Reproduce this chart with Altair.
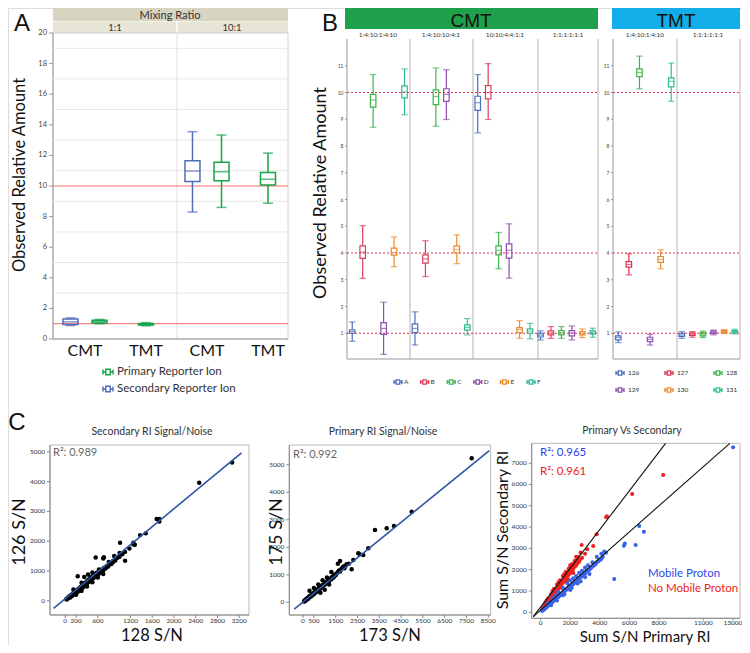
import altair as alt
import pandas as pd

FONT = "Lato"
LETTER_FONT = "Liberation Sans"
M = 8            # page margin
W, H = 734, 637  # chart canvas


def px(v):
    return v - M

# ---------------- Panel A data ----------------
A_ratios = ["1:1", "10:1"]
A_platforms = ["CMT", "TMT"]
A_reporters = ["Primary Reporter Ion", "Secondary Reporter Ion"]
A_colors = ["#17a34a", "#4e6eb8"]
A_ratio = ["1:1", "1:1", "1:1", "10:1", "10:1", "10:1"]
A_platform = ["CMT", "CMT", "TMT", "CMT", "CMT", "TMT"]
A_reporter = ["Secondary Reporter Ion", "Primary Reporter Ion", "Primary Reporter Ion",
              "Secondary Reporter Ion", "Primary Reporter Ion", "Primary Reporter Ion"]
A_lo = [0.88, 1.00, 0.86, 8.30, 8.60, 8.87]
A_q1 = [0.95, 1.05, 0.92, 10.30, 10.35, 10.07]
A_med = [1.12, 1.13, 0.97, 10.98, 10.93, 10.44]
A_q3 = [1.30, 1.22, 1.02, 11.65, 11.55, 10.89]
A_hi = [1.38, 1.28, 1.07, 13.55, 13.33, 12.15]
A_ticks = [0, 2, 4, 6, 8, 10, 12, 14, 16, 18, 20]
A_grid = [1, 3, 5, 7, 9, 11, 13, 15, 17, 19]
A_ref = [1, 10]

# ---------------- Panel B data ----------------
CMT_facets = ["1:4:10:1:4:10", "1:4:10:10:4:1", "10:10:4:4:1:1", "1:1:1:1:1:1"]
CMT_channels = ["A", "B", "C", "D", "E", "F"]
CMT_lo = [[0.70, 3.05, 8.70, 0.21, 3.49, 9.17], [0.56, 3.12, 8.74, 8.99, 3.60, 0.94],
          [8.49, 8.99, 3.41, 3.06, 0.81, 0.79], [0.75, 0.81, 0.81, 0.75, 0.84, 0.85]]
CMT_q1 = [[1.00, 3.80, 9.45, 0.96, 3.92, 9.80], [1.02, 3.62, 9.55, 9.67, 4.00, 1.12],
          [9.33, 9.76, 3.93, 3.81, 1.02, 1.00], [0.86, 0.94, 0.94, 0.90, 0.94, 0.97]]
CMT_med = [[1.07, 4.03, 9.72, 1.18, 4.02, 10.02], [1.18, 3.78, 9.85, 9.93, 4.13, 1.22],
           [9.62, 10.00, 4.10, 4.10, 1.14, 1.08], [0.93, 1.01, 1.02, 1.01, 0.99, 1.03]]
CMT_q3 = [[1.13, 4.27, 9.93, 1.40, 4.18, 10.25], [1.35, 3.93, 10.10, 10.14, 4.27, 1.31],
          [9.86, 10.26, 4.27, 4.34, 1.21, 1.16], [1.00, 1.09, 1.10, 1.10, 1.06, 1.09]]
CMT_hi = [[1.42, 5.02, 10.67, 2.16, 4.60, 10.88], [1.80, 4.46, 10.92, 10.85, 4.68, 1.55],
          [10.67, 11.08, 4.77, 5.09, 1.47, 1.37], [1.09, 1.25, 1.25, 1.27, 1.16, 1.19]]
CMT_colors = ["#4a6fbd", "#d83f5c", "#3db54a", "#8d4db3", "#e98a2c", "#2fba91"]

TMT_facets = ["1:4:10:1:4:10", "1:1:1:1:1:1"]
TMT_channels = ["126", "127", "128", "129", "130", "131"]
TMT_lo = [[0.65, 3.18, 10.14, 0.56, 3.41, 9.67], [0.81, 0.85, 0.84, 0.94, 0.99, 0.97]]
TMT_q1 = [[0.75, 3.47, 10.59, 0.69, 3.65, 10.21], [0.88, 0.92, 0.90, 0.99, 1.03, 1.02]]
TMT_med = [[0.84, 3.57, 10.75, 0.77, 3.76, 10.42], [0.94, 0.97, 0.96, 1.03, 1.06, 1.06]]
TMT_q3 = [[0.90, 3.68, 10.88, 0.85, 3.87, 10.55], [1.00, 1.01, 1.02, 1.08, 1.10, 1.10]]
TMT_hi = [[1.05, 3.97, 11.36, 0.96, 4.12, 11.10], [1.06, 1.06, 1.08, 1.12, 1.14, 1.15]]
TMT_colors = ["#4a6fbd", "#e0304f", "#3db54a", "#8d4db3", "#e98a2c", "#2fba91"]
B_ticks = [1, 2, 3, 4, 5, 6, 7, 8, 9, 10, 11]
B_ref = [1, 4, 10]

# ---------------- Panel C data ----------------
c1_x = [20, 40, 50, 60, 80, 90, 100, 110, 120, 130, 140, 150, 160, 170, 180, 190, 200, 210, 220, 230,
        240, 250, 260, 270, 280, 290, 300, 310, 320, 330, 340, 350, 360, 370, 380, 390, 400, 410, 420, 430,
        440, 450, 460, 470, 480, 500, 510, 530, 540, 560, 580, 600, 620, 640, 660, 690, 710, 740, 760, 790,
        820, 850, 880, 920, 960, 1000, 1050, 1100,
        150, 230, 300, 350, 420, 500, 560, 620, 700, 710, 800, 900, 1000, 1009, 1101, 1180, 1250, 1254,
        1280, 1376, 1480, 1682, 1731, 1731, 2464, 3070, 200, 300, 400, 500, 600, 700,
        30, 70, 100, 130, 160, 190, 220, 250, 280, 310, 340, 370, 400, 430, 460, 490, 520, 550, 580, 610,
        640, 670, 700, 730, 760, 800, 840, 880]
c1_y = [60, 70, 110, 90, 150, 110, 180, 150, 200, 170, 240, 200, 260, 230, 300, 250, 330, 280, 360, 300,
        390, 340, 420, 360, 450, 400, 480, 420, 520, 460, 560, 500, 590, 520, 620, 560, 650, 600, 690, 630,
        720, 660, 760, 690, 790, 740, 830, 780, 880, 840, 940, 880, 980, 930, 1040, 1000, 1100, 1080, 1160, 1150,
        1240, 1230, 1330, 1350, 1440, 1480, 1560, 1640,
        380, 820, 600, 800, 880, 950, 1450, 1050, 1420, 1456, 1300, 1500, 1600, 1946, 1342, 1750, 1900, 1946,
        1880, 2203, 2262, 2742, 2742, 2660, 3960, 4644, 200, 330, 480, 620, 780, 900,
        40, 120, 140, 210, 230, 300, 320, 390, 410, 480, 500, 560, 590, 640, 680, 730, 770, 830, 860, 900,
        960, 990, 1030, 1090, 1120, 1200, 1260, 1300]
c1_fit_x = [-215, 3242]
c1_fit_y = [-255, 4966]

c2_x = [50, 80, 100, 130, 150, 180, 200, 230, 250, 280, 300, 330, 350, 380, 400, 430, 450, 480, 500, 530,
        550, 580, 600, 630, 650, 680, 700, 730, 750, 780, 800, 830, 850, 880, 900, 950, 1000, 1050, 1100, 1150,
        1200, 1250, 1300, 1350, 1400, 1450, 1500, 1600, 1700, 1800, 1900, 2000, 2100,
        300, 500, 700, 900, 1000, 1200, 800, 1100, 1300, 1600, 1700, 2234, 2307, 2537, 2766, 2996, 2600,
        3303, 3839, 4174, 4986, 7739,
        70, 120, 170, 220, 270, 320, 370, 420, 470, 520, 570, 620, 670, 720, 770, 820, 870, 920, 980, 1030,
        1080, 1130, 1180, 1230, 1280, 1330, 1380, 1430, 1480, 1550, 1650, 1750, 1850, 1950]
c2_y = [30, 70, 50, 100, 80, 130, 110, 170, 140, 200, 180, 230, 210, 270, 240, 300, 270, 330, 300, 370,
        340, 400, 370, 440, 400, 470, 440, 520, 470, 550, 500, 580, 540, 620, 570, 650, 640, 720, 700, 790,
        770, 860, 840, 930, 900, 1000, 980, 1100, 1120, 1250, 1240, 1380, 1400,
        420, 520, 650, 800, 460, 650, 350, 900, 1100, 1400, 1500, 1200, 1538, 1782, 1720, 1963, 1750,
        2629, 2690, 2775, 3295, 5236,
        50, 90, 120, 150, 190, 220, 250, 290, 320, 350, 390, 420, 460, 480, 520, 560, 590, 620, 660, 690,
        740, 760, 800, 830, 870, 900, 940, 960, 1010, 1050, 1160, 1200, 1300, 1330]
c2_fit_x = [-400, 8546]
c2_fit_y = [-244, 5513]

c3_nomob_x = [100, 200, 300, 400, 500, 600, 700, 800, 900, 1000, 1100, 1200, 1300, 1400, 1500, 1600, 1700,
              1800, 1900, 2000, 2100, 2200, 2300, 2400, 2500, 2600, 2700, 2800, 3000,
              300, 500, 700, 900, 1100, 1300, 1500, 1700, 1900, 2100, 2300, 2500, 2700,
              600, 1000, 1400, 1800, 2200,
              2770, 3149, 3554, 3784, 4433, 4480, 6189, 8284,
              150, 250, 350, 450, 550, 650, 750, 850, 950, 1050, 1150, 1250, 1350, 1450, 1550, 1650, 1750,
              1850, 1950, 2050, 2150, 2250, 2350, 2450, 400, 800, 1200, 1600, 2000, 2400,
              200, 600, 1000, 1400, 1800]
c3_nomob_y = [120, 200, 300, 380, 480, 560, 660, 740, 840, 920, 1020, 1100, 1210, 1280, 1390, 1460, 1570,
              1650, 1760, 1840, 1950, 2030, 2140, 2200, 2310, 2380, 2500, 2560, 2750,
              420, 650, 850, 1100, 1300, 1500, 1700, 1900, 2050, 2250, 2400, 2600, 2800,
              450, 800, 1150, 1500, 1850,
              3160, 2958, 3113, 3662, 4460, 4507, 5554, 6446,
              200, 280, 380, 470, 560, 650, 760, 850, 950, 1050, 1140, 1250, 1340, 1450, 1540, 1650, 1740,
              1850, 1950, 2050, 2130, 2250, 2330, 2450, 550, 1000, 1400, 1800, 2200, 2600,
              150, 500, 850, 1200, 1550]
c3_mob_x = [100, 200, 300, 400, 500, 600, 700, 800, 900, 1000, 1100, 1200, 1300, 1400, 1500, 1600, 1700,
            1800, 1900, 2000, 2100, 2200, 2300, 2400, 2500, 2600, 2700, 2800, 2900, 3000, 3100, 3200,
            3400, 3600, 3800, 4000, 4200,
            500, 800, 1000, 1200, 1500, 1800, 2000, 2200, 2400, 2600, 2800, 3000, 3200, 3500, 3800, 4100, 4300,
            1500, 2000, 2500, 3000,
            4412, 4973, 5628, 5696, 6419, 6662, 6980, 13013,
            150, 250, 350, 450, 550, 650, 750, 850, 950, 1050, 1150, 1250, 1350, 1450, 1550, 1650, 1750,
            1850, 1950, 2050, 2150, 2250, 2350, 2450, 2550, 2650, 2750, 2850, 2950, 3050,
            3300, 3500, 3700, 3900, 4100, 700, 1100, 1600, 2100, 2700, 3300]
c3_mob_y = [60, 110, 190, 230, 310, 350, 440, 480, 560, 590, 690, 720, 810, 850, 940, 970, 1060,
            1090, 1180, 1200, 1300, 1320, 1420, 1450, 1550, 1580, 1680, 1700, 1800, 1820, 1940, 1960,
            2080, 2200, 2350, 2450, 2600,
            450, 650, 800, 950, 1150, 1350, 1500, 1600, 1700, 1850, 1950, 2100, 2200, 2350, 2600, 2750, 2850,
            800, 1050, 1350, 1650,
            2798, 1563, 3127, 3230, 3160, 4050, 3784, 7746,
            120, 170, 230, 290, 350, 410, 470, 530, 590, 650, 710, 770, 830, 890, 950, 1010, 1070,
            1130, 1190, 1250, 1320, 1380, 1440, 1500, 1560, 1620, 1680, 1740, 1800, 1870,
            2000, 2150, 2250, 2400, 2500, 330, 550, 850, 1150, 1450, 1800]
c3_fit_nomob_x = [-500, 8446]
c3_fit_nomob_y = [-207, 7934]
c3_fit_mob_x = [-500, 12790]
c3_fit_mob_y = [-207, 7934]

C1_xticks = [0, 200, 600, 1200, 1600, 2000, 2400, 2800, 3200]
C1_yticks = [0, 1000, 2000, 3000, 4000, 5000]
C2_xticks = [0, 500, 1500, 2500, 3500, 4500, 5500, 6500, 7500, 8500]
C2_yticks = [0, 1000, 2000, 3000, 4000, 5000]
C3_xticks = [0, 2000, 4000, 6000, 8000, 11000, 13000]
C3_yticks = [0, 1000, 2000, 3000, 4000, 5000, 6000, 7000]

BOXPATH = "M-1,0H-0.45M0.45,0H1M-1,-0.5V0.5M1,-0.5V0.5M-0.45,-0.55H0.45V0.55H-0.45Z"


# ---------------- helpers ----------------
def txt(s, x, y, size, color="#222", align="center", baseline="middle", angle=0, weight="normal", font=FONT):
    return alt.Chart().mark_text(text=s, font=font, fontSize=size, color=color, align=align,
                                 baseline=baseline, angle=angle, fontWeight=weight).encode(
        x=alt.value(px(x)), y=alt.value(px(y)))


def rect(x0, x1, y0, y1, fill):
    return alt.Chart().mark_rect(color=fill).encode(
        x=alt.value(px(x0)), x2=alt.value(px(x1)), y=alt.value(px(y0)), y2=alt.value(px(y1)))


def frame(x0, x1, y0, y1, color, sw=1):
    return alt.Chart().mark_rect(filled=False, color=color, strokeWidth=sw).encode(
        x=alt.value(px(x0)), x2=alt.value(px(x1)), y=alt.value(px(y0)), y2=alt.value(px(y1)))


def vrule(x, y0, y1, color, sw=1):
    return alt.Chart().mark_rule(color=color, strokeWidth=sw).encode(
        x=alt.value(px(x)), y=alt.value(px(y0)), y2=alt.value(px(y1)))


def hrule(y, x0, x1, color, sw=1):
    return alt.Chart().mark_rule(color=color, strokeWidth=sw).encode(
        y=alt.value(px(y)), x=alt.value(px(x0)), x2=alt.value(px(x1)))


def y_guide(values, yscale, xaxis, size, tick=3, pad=2, color="#444", tcolor="#999"):
    df = pd.DataFrame({"v": values})
    ticks = alt.Chart(df).mark_rule(color=tcolor, strokeWidth=1).encode(
        y=alt.Y("v:Q", scale=yscale, axis=None), x=alt.value(px(xaxis) - tick), x2=alt.value(px(xaxis)))
    labels = alt.Chart(df).mark_text(align="right", baseline="middle", fontSize=size, color=color,
                                     font=FONT).encode(
        y=alt.Y("v:Q", scale=yscale, axis=None), x=alt.value(px(xaxis) - tick - pad),
        text=alt.Text("v:Q", format="d"))
    return alt.layer(ticks, labels)


def x_guide(values, xscale, yaxis, size, tick=3, pad=0, color="#333", tcolor="#888"):
    df = pd.DataFrame({"v": values})
    ticks = alt.Chart(df).mark_rule(color=tcolor, strokeWidth=1).encode(
        x=alt.X("v:Q", scale=xscale, axis=None), y=alt.value(px(yaxis)), y2=alt.value(px(yaxis) + tick))
    labels = alt.Chart(df).mark_text(align="center", baseline="top", fontSize=size, color=color,
                                     font=FONT).encode(
        x=alt.X("v:Q", scale=xscale, axis=None), y=alt.value(px(yaxis) + tick + pad),
        text=alt.Text("v:Q", format="d"))
    return alt.layer(ticks, labels)


def box_layers(df, xenc, yscale, cenc, box_w, cap_w, sw, xoff=None):
    def enc(**kw):
        e = {"x": xenc(), "color": cenc()}
        if xoff is not None:
            e["xOffset"] = xoff
        e.update(kw)
        return e

    def Y(f):
        return alt.Y(f + ":Q", scale=yscale, axis=None)

    base = alt.Chart(df)
    lower = base.mark_rule(strokeWidth=sw).encode(**enc(y=Y("lo"), y2=alt.Y2("q1:Q")))
    upper = base.mark_rule(strokeWidth=sw).encode(**enc(y=Y("q3"), y2=alt.Y2("hi:Q")))
    cap_lo = base.mark_tick(size=cap_w, thickness=sw).encode(**enc(y=Y("lo")))
    cap_hi = base.mark_tick(size=cap_w, thickness=sw).encode(**enc(y=Y("hi")))
    box = base.mark_bar(filled=False, strokeWidth=sw, width=box_w).encode(
        **enc(y=Y("q1"), y2=alt.Y2("q3:Q")))
    med = base.mark_tick(size=box_w, thickness=sw).encode(**enc(y=Y("med")))
    return alt.layer(lower, upper, cap_lo, cap_hi, box, med)


def legend_marks(df, xfield, xdomain, xrange, yfield, ydomain, yrange, cfield, cdomain, colors,
                 size, lab_dx, sw=1.3, sym=64):
    xs = alt.Scale(type="point", domain=xdomain, range=xrange, padding=0)
    ys = alt.Scale(type="point", domain=ydomain, range=yrange, padding=0)
    cs = alt.Scale(domain=cdomain, range=colors)
    s = alt.Chart(df).mark_point(shape=BOXPATH, filled=False, size=sym, strokeWidth=sw, opacity=1).encode(
        x=alt.X(xfield, scale=xs, axis=None), y=alt.Y(yfield, scale=ys, axis=None),
        color=alt.Color(cfield, scale=cs, legend=None))
    lab = alt.Chart(df).mark_text(align="left", baseline="middle", dx=lab_dx, fontSize=size, color="#333",
                                  font=FONT).encode(
        x=alt.X(xfield, scale=xs, axis=None), y=alt.Y(yfield, scale=ys, axis=None), text=cfield)
    return alt.layer(s, lab)


# ---------------- Panel A ----------------
dfA = pd.DataFrame({
    "slot": [f"{r}|{p}" for r, p in zip(A_ratio, A_platform)],
    "platform": A_platform, "reporter": A_reporter,
    "lo": A_lo, "q1": A_q1, "med": A_med, "q3": A_q3, "hi": A_hi})
yA = alt.Scale(domain=[0, 20], range=[px(339), px(33)], nice=False, zero=False)
A_slots = [f"{r}|{p}" for r in A_ratios for p in A_platforms]
xA_scale = alt.Scale(domain=A_slots, range=[px(54.5), px(298.5)], paddingInner=0, paddingOuter=0)


def xA():
    return alt.X("slot:N", scale=xA_scale, axis=None)


def cA():
    return alt.Color("reporter:N", scale=alt.Scale(domain=A_reporters, range=A_colors), legend=None)


gridA = alt.Chart(pd.DataFrame({"g": A_grid})).mark_rule(color="#e6e6e6", strokeWidth=1).encode(
    y=alt.Y("g:Q", scale=yA, axis=None), x=alt.value(px(53)), x2=alt.value(px(288)))
refA = alt.Chart(pd.DataFrame({"v": A_ref})).mark_rule(color="#ff6b6b", strokeWidth=1).encode(
    y=alt.Y("v:Q", scale=yA, axis=None), x=alt.value(px(53)), x2=alt.value(px(288)))
xoffA = alt.XOffset("reporter:N", scale=alt.Scale(domain=["Secondary Reporter Ion", "Primary Reporter Ion"],
                                                  paddingInner=0, paddingOuter=0.05))
cmtA = box_layers(dfA[dfA.platform == "CMT"], xA, yA, cA, 15, 10, 1.5, xoff=xoffA)
tmtA = box_layers(dfA[dfA.platform == "TMT"], xA, yA, cA, 15, 10, 1.5)
panelA = alt.layer(gridA, refA, cmtA, tmtA)
xlabA = alt.Chart(pd.DataFrame({"slot": A_slots, "platform": [p for r in A_ratios for p in A_platforms]})
                  ).mark_text(fontSize=16, color="#111", font=FONT, baseline="middle").encode(
    x=alt.X("slot:N", scale=xA_scale, axis=None), y=alt.value(px(351)), text="platform:N")
ylabA = y_guide(A_ticks, yA, 53, 7.5, tick=4, pad=2)
legA = legend_marks(pd.DataFrame({"reporter": A_reporters, "col": ["a", "a"]}),
                    "col:N", ["a"], [px(108), px(108)], "reporter:N", A_reporters, [px(372), px(389)],
                    "reporter:N", A_reporters, A_colors, 11.5, 9, sw=1.4, sym=100)


# ---------------- Panel B ----------------
def make_df(facets, channels, lo, q1, med, q3, hi):
    rows = []
    for i, f in enumerate(facets):
        for j, c in enumerate(channels):
            rows.append({"slot": f"{f}|{c}", "channel": c, "lo": lo[i][j], "q1": q1[i][j],
                         "med": med[i][j], "q3": q3[i][j], "hi": hi[i][j]})
    return pd.DataFrame(rows)


yB = alt.Scale(domain=[0, 12], range=[px(360), px(39)], nice=False, zero=False)


def panelB(facets, channels, lo, q1, med, q3, hi, colors, x0, x1):
    df = make_df(facets, channels, lo, q1, med, q3, hi)
    xs = alt.Scale(domain=[f"{f}|{c}" for f in facets for c in channels], range=[px(x0), px(x1)],
                   paddingInner=0, paddingOuter=0)

    def xe():
        return alt.X("slot:N", scale=xs, axis=None)

    def ce():
        return alt.Color("channel:N", scale=alt.Scale(domain=channels, range=colors), legend=None)

    ref = alt.Chart(pd.DataFrame({"v": B_ref})).mark_rule(color="#e0314b", strokeWidth=1.2,
                                                           strokeDash=[2, 2]).encode(
        y=alt.Y("v:Q", scale=yB, axis=None), x=alt.value(px(x0)), x2=alt.value(px(x1)))
    boxes = box_layers(df, xe, yB, ce, 5.5, 6.5, 1.2)
    return alt.layer(ref, boxes)


panelCMT = panelB(CMT_facets, CMT_channels, CMT_lo, CMT_q1, CMT_med, CMT_q3, CMT_hi, CMT_colors, 347, 598)
panelTMT = panelB(TMT_facets, TMT_channels, TMT_lo, TMT_q1, TMT_med, TMT_q3, TMT_hi, TMT_colors, 613, 740)
ylabCMT = y_guide(B_ticks, yB, 347, 5, tick=2, pad=1.5)
ylabTMT = y_guide(B_ticks, yB, 613, 5, tick=2, pad=1.5)

legCMT = legend_marks(pd.DataFrame({"channel": CMT_channels, "row": ["r"] * 6}),
                      "channel:N", CMT_channels, [px(398), px(531)], "row:N", ["r"], [px(382), px(382)],
                      "channel:N", CMT_channels, CMT_colors, 6.5, 6)
legTMT = legend_marks(pd.DataFrame({"channel": TMT_channels, "col": [0, 1, 2, 0, 1, 2],
                                   "row": [0, 0, 0, 1, 1, 1]}),
                      "col:O", [0, 1, 2], [px(620), px(718)], "row:O", [0, 1], [px(373), px(390)],
                      "channel:N", TMT_channels, TMT_colors, 6.5, 8)


# ---------------- Panel C ----------------
def scatter(xs, ys, xvals, yvals, color, size=20):
    df = pd.DataFrame({"x": xvals, "y": yvals})
    return alt.Chart(df).mark_circle(size=size, color=color, opacity=1).encode(
        x=alt.X("x:Q", scale=xs, axis=None), y=alt.Y("y:Q", scale=ys, axis=None))


def fit(xs, ys, xvals, yvals, color, sw):
    df = pd.DataFrame({"x": xvals, "y": yvals})
    return alt.Chart(df).mark_line(color=color, strokeWidth=sw).encode(
        x=alt.X("x:Q", scale=xs, axis=None), y=alt.Y("y:Q", scale=ys, axis=None))


def q(domain, r0, r1):
    return alt.Scale(domain=domain, range=[px(r0), px(r1)], nice=False, zero=False)


xs1, ys1 = q([-280, 3380], 50, 249), q([-480, 5230], 615, 445)
xs2, ys2 = q([-628, 8610], 289.3, 490.7), q([-462, 5720], 615, 445)
xs3, ys3 = q([-608, 13480], 531.7, 740), q([-282, 7934], 618.3, 443.3)

c1 = alt.layer(scatter(xs1, ys1, c1_x, c1_y, "black"),
               fit(xs1, ys1, c1_fit_x, c1_fit_y, "#2f55a4", 1.6))
c2 = alt.layer(scatter(xs2, ys2, c2_x, c2_y, "black"),
               fit(xs2, ys2, c2_fit_x, c2_fit_y, "#2f55a4", 1.6))
c3 = alt.layer(scatter(xs3, ys3, c3_nomob_x, c3_nomob_y, "#ee2020", size=17),
               scatter(xs3, ys3, c3_mob_x, c3_mob_y, "#3a64e6", size=17),
               fit(xs3, ys3, c3_fit_nomob_x, c3_fit_nomob_y, "#111", 1.1),
               fit(xs3, ys3, c3_fit_mob_x, c3_fit_mob_y, "#111", 1.1))
guidesC = [
    x_guide(C1_xticks, xs1, 615, 6.5), y_guide(C1_yticks, ys1, 50, 6.5, color="#333", tcolor="#888"),
    x_guide(C2_xticks, xs2, 615, 6.5), y_guide(C2_yticks, ys2, 289.3, 6.5, color="#333", tcolor="#888"),
    x_guide(C3_xticks, xs3, 618.3, 6.5, tick=2), y_guide(C3_yticks, ys3, 531.7, 6.5, color="#333", tcolor="#888"),
]

# ---------------- decorations & text ----------------
back = [
    rect(53, 288, 8, 21, "#d7d4c1"),
    rect(53, 288, 21.5, 33, "#e7e5d6"),
    vrule(177, 21.5, 33, "white", 1.5),
    frame(53, 288, 33, 339, "#d0d0d0"),
    vrule(177, 33, 339, "#e0e0e0", 1),
    hrule(339, 53, 288, "#999", 1),
    vrule(53, 33, 339, "#999", 1),
    rect(345, 598, 8, 29, "#1fa04b"),
    rect(612, 740, 8, 29, "#13aeea"),
    vrule(410, 39, 359, "#cccccc", 1.5),
    vrule(473, 39, 359, "#cccccc", 1.5),
    vrule(538, 39, 359, "#cccccc", 1.5),
    vrule(598, 39, 359, "#cccccc", 1.5),
    vrule(677, 39, 359, "#cccccc", 1.5),
    vrule(740, 39, 359, "#cccccc", 1.5),
    vrule(347, 39, 359, "#999", 1),
    hrule(359, 347, 598, "#999", 1),
    vrule(613, 39, 359, "#999", 1),
    hrule(359, 613, 740, "#999", 1),
    frame(50, 249, 445, 615, "#b8b8b8"),
    frame(289.3, 490.7, 445, 615, "#b8b8b8"),
    frame(531.7, 740, 443.3, 618.3, "#b8b8b8"),
    vrule(50, 445, 615, "#888"), hrule(615, 50, 249, "#888"),
    vrule(289.3, 445, 615, "#888"), hrule(615, 289.3, 490.7, "#888"),
    vrule(531.7, 443.3, 618.3, "#888"), hrule(618.3, 531.7, 740, "#888"),
]

texts = [
    txt("A", 22, 31, 24, "#111", baseline="alphabetic", font=LETTER_FONT),
    txt("B", 330, 31, 24, "#111", baseline="alphabetic", font=LETTER_FONT),
    txt("C", 17, 430, 24, "#111", baseline="alphabetic", font=LETTER_FONT),
    txt("Mixing Ratio", 170, 19.3, 11, "#333", baseline="alphabetic"),
    txt("1:1", 115, 30.5, 9.5, "#333", baseline="alphabetic"),
    txt("10:1", 232, 30.5, 9.5, "#333", baseline="alphabetic"),
    txt("Observed Relative Amount", 20, 175, 16.5, "#111", angle=270),
    txt("CMT", 471, 26.5, 19, "#111", baseline="alphabetic", font=LETTER_FONT),
    txt("TMT", 676, 26.5, 19, "#111", baseline="alphabetic", font=LETTER_FONT),
    txt("1:4:10:1:4:10", 378, 34.5, 6.5, "#333"),
    txt("1:4:10:10:4:1", 441, 34.5, 6.5, "#333"),
    txt("10:10:4:4:1:1", 505, 34.5, 6.5, "#333"),
    txt("1:1:1:1:1:1", 568, 34.5, 6.5, "#333"),
    txt("1:4:10:1:4:10", 645, 34.5, 6.5, "#333"),
    txt("1:1:1:1:1:1", 708, 34.5, 6.5, "#333"),
    txt("Observed Relative Amount", 321, 193, 18, "#111", angle=270),
    txt("Secondary RI Signal/Noise", 152, 432, 10.5, "#333"),
    txt("Primary RI Signal/Noise", 383, 432, 10.5, "#333"),
    txt("Primary Vs Secondary", 632, 431, 10.5, "#333"),
    txt("R²: 0.989", 53, 453, 11, "#666", align="left"),
    txt("R²: 0.992", 293, 455, 11, "#666", align="left"),
    txt("R²: 0.965", 540, 453, 11.5, "#2b3ef0", align="left"),
    txt("R²: 0.961", 540, 472, 11.5, "#ee2222", align="left"),
    txt("Mobile Proton", 648, 574, 11.5, "#3048e8", align="left"),
    txt("No Mobile Proton", 648, 589, 11.5, "#ee2222", align="left"),
    txt("126 S/N", 20, 532, 18, "#111", angle=270),
    txt("128 S/N", 152, 641.2, 16.5, "#111", baseline="alphabetic"),
    txt("175 S/N", 277, 532, 18, "#111", angle=270),
    txt("173 S/N", 390, 641.2, 16.5, "#111", baseline="alphabetic"),
    txt("Sum S/N Secondary RI", 503, 530, 16, "#111", angle=270),
    txt("Sum S/N Primary RI", 645, 641.5, 15, "#111", baseline="alphabetic"),
]

chart = alt.layer(*back, panelA, xlabA, ylabA, legA, panelCMT, panelTMT, ylabCMT, ylabTMT, legCMT, legTMT,
                  c1, c2, c3, *guidesC, *texts,
                  data=pd.DataFrame({"d": [0]})).resolve_scale(
    x="independent", y="independent", color="independent", xOffset="independent"
).properties(
    width=W, height=H, padding=0, autosize=alt.AutoSizeParams(type="none")
).configure_view(stroke=None).configure(font=FONT)

chart.save("out.html", embed_options={"renderer": "svg", "actions": False})
